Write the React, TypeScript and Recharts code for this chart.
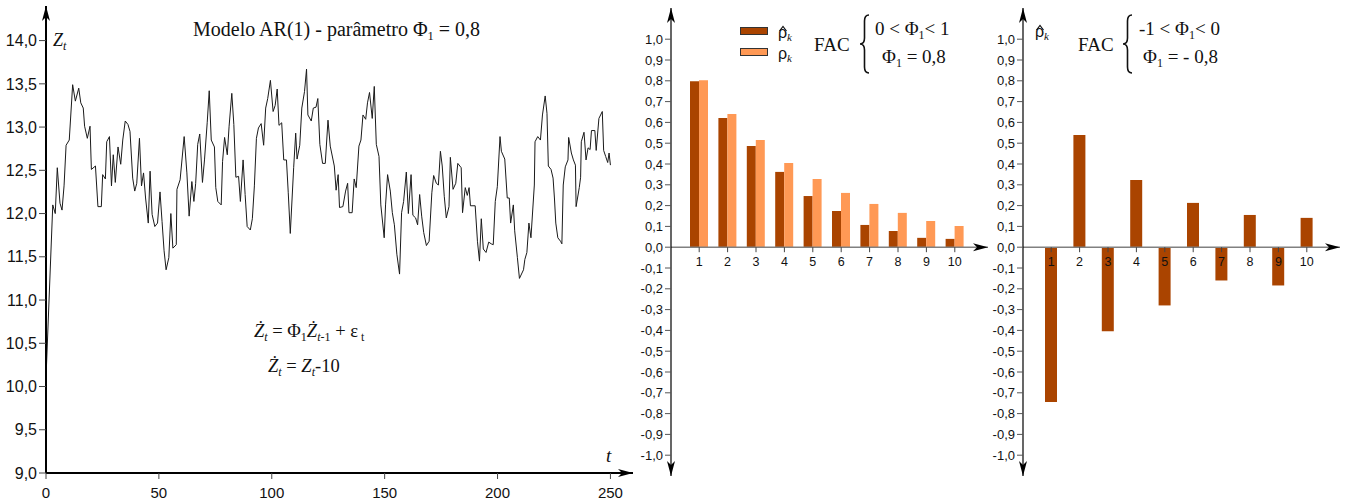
import React from 'react';
import { LineChart, Line, BarChart, Bar, XAxis, YAxis, ReferenceLine } from 'recharts';

const SANS = '"Liberation Sans", Arial, sans-serif';
const SERIF = '"Liberation Serif", "Times New Roman", serif';
const DARK = '#aa4400';
const LIGHT = '#ff9955';

// AR(1) series (t, Z_t)
const tValues = [
  0, 3.0, 4.1, 5.0, 6.2, 7.1, 8.0, 8.9, 10.3, 11.8,
  13.0, 14.5, 15.4, 16.5, 17.1, 18.3, 19.5, 20.1, 21.9, 23.0,
  24.5, 25.1, 26.3, 26.9, 28.1, 29.0, 29.8, 30.7, 31.9, 33.1,
  34.0, 35.1, 36.3, 37.2, 38.4, 39.3, 40.2, 41.4, 42.3, 43.2,
  44.1, 45.3, 46.1, 47.0, 48.2, 49.4, 50.5, 51.4, 52.3, 53.2,
  54.4, 55.3, 56.2, 57.7, 58.0, 59.4, 61.2, 62.4, 63.4, 64.6,
  65.5, 66.3, 67.2, 68.1, 69.3, 70.2, 71.4, 72.3, 73.2, 74.6,
  75.2, 76.1, 77.6, 78.2, 79.1, 80.3, 81.1, 82.3, 83.2, 84.1,
  85.3, 86.1, 87.3, 88.2, 89.1, 90.5, 91.4, 92.3, 93.2, 94.1,
  95.3, 96.4, 97.3, 98.2, 99.4, 100.6, 101.5, 102.4, 103.2, 104.4,
  105.3, 106.5, 107.3, 108.2, 109.7, 110.6, 111.2, 112.4, 113.3, 114.5,
  115.4, 116.0, 117.5, 118.4, 119.6, 120.4, 121.3, 122.5, 123.7, 124.9,
  125.9, 127.7, 128.5, 129.4, 130.0, 131.5, 132.7, 133.6, 134.2, 135.6,
  136.5, 137.4, 138.6, 139.5, 140.4, 141.6, 142.4, 143.3, 144.5, 145.4,
  146.3, 147.5, 148.3, 149.8, 150.4, 151.3, 152.5, 153.4, 154.3, 155.4,
  156.6, 157.5, 158.4, 159.6, 160.5, 161.7, 162.5, 163.7, 164.6, 165.5,
  166.4, 167.3, 168.5, 169.7, 170.9, 171.7, 172.9, 173.8, 174.7, 175.5,
  176.4, 177.3, 178.5, 179.1, 180.3, 181.5, 182.4, 183.9, 184.5, 185.7,
  186.6, 187.4, 188.0, 190.1, 191.1, 192.0, 192.8, 193.7, 194.9, 196.1,
  197.2, 198.1, 199.0, 199.9, 201.1, 201.7, 203.2, 204.3, 205.2, 205.8,
  207.0, 207.6, 208.8, 209.7, 211.5, 212.1, 213.0, 213.9, 214.8, 216.3,
  216.6, 217.8, 219.0, 219.9, 221.1, 221.9, 222.5, 223.7, 224.6, 225.2,
  225.8, 226.7, 227.9, 228.5, 229.1, 230.0, 231.2, 231.5, 232.7, 233.6,
  234.5, 234.8, 236.2, 236.8, 237.1, 238.3, 239.2, 240.1, 241.0, 241.6,
  243.1, 243.7, 244.9, 246.4, 247.0, 247.9, 248.8, 249.4, 250.0,
];

const zValues = [
  10.10, 12.10, 12.00, 12.53, 12.12, 12.04, 12.32, 12.79, 12.85, 13.49,
  13.30, 13.45, 13.28, 13.22, 13.01, 12.87, 13.01, 12.51, 12.55, 12.08,
  12.08, 12.45, 12.40, 12.83, 12.89, 12.32, 12.68, 12.36, 12.77, 12.57,
  12.85, 13.07, 13.03, 12.95, 12.41, 12.26, 12.35, 12.87, 12.32, 12.47,
  12.18, 11.89, 12.49, 11.99, 11.85, 11.89, 12.25, 11.91, 11.57, 11.35,
  11.49, 12.00, 11.60, 11.64, 12.28, 12.39, 12.89, 12.47, 11.97, 12.37,
  12.14, 12.35, 12.80, 12.92, 12.36, 12.62, 13.05, 13.42, 12.85, 12.77,
  12.30, 12.14, 12.10, 12.60, 12.88, 12.68, 13.01, 13.39, 13.03, 12.42,
  12.43, 12.14, 12.62, 12.22, 11.85, 11.81, 11.94, 12.32, 12.87, 12.99,
  13.04, 12.79, 13.22, 13.33, 13.54, 13.18, 13.25, 13.44, 13.02, 13.05,
  12.62, 12.62, 12.24, 11.77, 12.53, 12.93, 12.63, 12.79, 13.22, 13.41,
  13.67, 13.14, 13.07, 13.22, 13.23, 13.33, 12.80, 12.58, 12.58, 13.08,
  12.78, 12.55, 12.27, 12.45, 12.07, 12.08, 12.26, 12.35, 12.01, 12.01,
  12.40, 12.30, 12.78, 12.85, 13.14, 13.09, 13.28, 13.40, 13.10, 13.47,
  12.80, 12.66, 12.10, 11.72, 12.10, 12.45, 12.26, 12.01, 11.87, 11.53,
  11.30, 12.01, 12.14, 12.48, 12.00, 12.45, 11.98, 11.95, 11.87, 12.22,
  11.97, 11.78, 11.63, 11.68, 12.24, 12.44, 12.35, 12.33, 12.72, 12.55,
  12.20, 11.95, 12.08, 12.65, 12.28, 12.35, 12.58, 12.53, 12.01, 12.30,
  12.21, 12.30, 12.09, 12.09, 11.68, 11.45, 11.94, 11.59, 11.55, 11.67,
  11.65, 11.64, 12.14, 12.31, 12.89, 12.72, 12.63, 12.18, 12.18, 11.89,
  12.10, 11.80, 11.49, 11.25, 11.35, 11.47, 11.55, 11.89, 11.72, 12.33,
  12.83, 12.89, 12.85, 13.14, 13.36, 13.16, 12.55, 12.51, 12.41, 12.18,
  11.89, 11.72, 11.68, 11.65, 12.33, 12.54, 12.62, 12.88, 12.70, 12.62,
  12.56, 12.08, 12.30, 12.42, 12.83, 12.94, 12.62, 12.76, 12.74, 12.96,
  12.96, 12.73, 13.10, 13.18, 12.73, 12.66, 12.59, 12.70, 12.56,
];

const zTicks = [9, 9.5, 10, 10.5, 11, 11.5, 12, 12.5, 13, 13.5, 14];
const tTicks = [0, 50, 100, 150, 200, 250];

// FAC (ACF) bars
const lags = [1, 2, 3, 4, 5, 6, 7, 8, 9, 10];
const rhoHatPos = [0.798, 0.621, 0.486, 0.362, 0.246, 0.174, 0.107, 0.078, 0.045, 0.040];
const rhoTheo = [0.803, 0.640, 0.515, 0.405, 0.328, 0.261, 0.208, 0.165, 0.126, 0.102];
const rhoHatNeg = [-0.744, 0.539, -0.404, 0.323, -0.280, 0.213, -0.160, 0.155, -0.184, 0.141];
const acfTicks = [-1, -0.9, -0.8, -0.7, -0.6, -0.5, -0.4, -0.3, -0.2, -0.1, 0, 0.1, 0.2, 0.3, 0.4, 0.5, 0.6, 0.7, 0.8, 0.9, 1];

const seriesData = tValues.map((t, i) => ({ t, z: zValues[i] }));
const acfPosData = lags.map((k, i) => ({ k, hat: rhoHatPos[i], theo: rhoTheo[i] }));
const acfNegData = lags.map((k, i) => ({ k, hat: rhoHatNeg[i] }));

const fmt = (v: number) => v.toFixed(1).replace('.', ',');

// layout
const H = 504;
const TS = { width: 640, top: 6, right: 7, axisW: 46, axisH: 31 };
const tsLeft = TS.axisW;
const tsRight = TS.width - TS.right;
const tsBottom = H - TS.axisH;

const ACF_TOP = 8;
const ACF_BOTTOM = 28;
const ACF_DOMAIN: [number, number] = [-1.1, 1.15];
const acfBottom = H - ACF_BOTTOM;
const zeroY = ACF_TOP + (ACF_DOMAIN[1] / (ACF_DOMAIN[1] - ACF_DOMAIN[0])) * (acfBottom - ACF_TOP);
const MID = { left: 630, width: 360, axisW: 41, right: 2 };
const RGT = { left: 982, width: 366, axisW: 41, right: 8 };

const LagTick = (props: any) => {
  const { x, payload } = props;
  return (
    <g>
      <line x1={x} x2={x} y1={zeroY} y2={zeroY + 5} stroke="#444" />
      <text x={x} y={zeroY + 19} textAnchor="middle" fontSize={12.5} fontFamily={SANS} fill="#111">
        {payload.value}
      </text>
    </g>
  );
};

function arrow(x: number, y: number, dir: 'up' | 'down' | 'right') {
  if (dir === 'up') return `M ${x} ${y} L ${x + 4} ${y + 15} L ${x} ${y + 11} L ${x - 4} ${y + 15} Z`;
  if (dir === 'down') return `M ${x} ${y} L ${x + 4} ${y - 15} L ${x} ${y - 11} L ${x - 4} ${y - 15} Z`;
  return `M ${x} ${y} L ${x - 15} ${y - 4} L ${x - 11} ${y} L ${x - 15} ${y + 4} Z`;
}

function brace(x: number, y0: number, y1: number) {
  const w = 9;
  const q = 6;
  const xm = x + w / 2;
  const ym = (y0 + y1) / 2;
  return `M ${x + w} ${y0} Q ${xm} ${y0} ${xm} ${y0 + q} L ${xm} ${ym - q} Q ${xm} ${ym} ${x} ${ym} Q ${xm} ${ym} ${xm} ${ym + q} L ${xm} ${y1 - q} Q ${xm} ${y1} ${x + w} ${y1}`;
}

// rho with a hat drawn above it, subscript k
function RhoLabel({ x, y, hat }: { x: number; y: number; hat: boolean }) {
  return (
    <g>
      <text x={x} y={y} fontSize={16} fontFamily={SANS} fill="#111">
        ρ<tspan fontFamily={SERIF} fontStyle="italic" fontSize={11} dy={3}>k</tspan>
      </text>
      {hat && (
        <path
          d={`M ${x + 1.5} ${y - 7} L ${x + 5} ${y - 11.5} L ${x + 8.5} ${y - 7}`}
          fill="none"
          stroke="#111"
          strokeWidth={1.2}
        />
      )}
    </g>
  );
}

function AcfChart({ data, two, layout }: { data: any[]; two: boolean; layout: typeof MID }) {
  return (
    <BarChart
      width={layout.width}
      height={H}
      data={data}
      barGap={0}
      margin={{ top: ACF_TOP, right: layout.right, left: 0, bottom: ACF_BOTTOM - 1 }}
    >
      <XAxis
        dataKey="k"
        height={1}
        axisLine={false}
        tickLine={false}
        interval={0}
        padding={{ left: 14, right: 19 }}
        tick={LagTick}
      />
      <YAxis
        type="number"
        domain={ACF_DOMAIN}
        ticks={acfTicks}
        interval={0}
        allowDataOverflow
        width={layout.axisW}
        tickFormatter={fmt}
        tickSize={6}
        tickMargin={2}
        axisLine={{ stroke: '#000', strokeWidth: 1.2 }}
        tickLine={{ stroke: '#555' }}
        tick={{ fontSize: 13, fill: '#111', fontFamily: SANS }}
      />
      <ReferenceLine y={0} stroke="#808080" strokeWidth={1.5} />
      <Bar dataKey="hat" fill={DARK} barSize={two ? 9 : 12} isAnimationActive={false} />
      {two && <Bar dataKey="theo" fill={LIGHT} barSize={9} isAnimationActive={false} />}
    </BarChart>
  );
}

export default function App() {
  const midAxisX = MID.left + MID.axisW;
  const midRight = MID.left + MID.width - MID.right;
  const rgtAxisX = RGT.left + RGT.axisW;
  const rgtRight = RGT.left + RGT.width - RGT.right;

  return (
    <div style={{ position: 'absolute', left: 0, top: 0, width: 1348, height: H, background: '#fff' }}>
      <div style={{ position: 'absolute', left: 0, top: 0 }}>
        <LineChart
          width={TS.width}
          height={H}
          data={seriesData}
          margin={{ top: TS.top, right: TS.right, left: 0, bottom: 0 }}
        >
          <XAxis
            dataKey="t"
            type="number"
            domain={[0, 260]}
            ticks={tTicks}
            allowDataOverflow
            height={TS.axisH}
            tickSize={6}
            tickMargin={8}
            axisLine={{ stroke: '#000', strokeWidth: 2 }}
            tickLine={{ stroke: '#444' }}
            tick={{ fontSize: 15, fill: '#111', fontFamily: SANS }}
          />
          <YAxis
            type="number"
            domain={[9, 14.4]}
            ticks={zTicks}
            interval={0}
            allowDataOverflow
            width={TS.axisW}
            tickFormatter={fmt}
            tickSize={7}
            tickMargin={2}
            axisLine={{ stroke: '#000', strokeWidth: 2 }}
            tickLine={{ stroke: '#444' }}
            tick={{ fontSize: 16, fill: '#111', fontFamily: SANS }}
          />
          <Line
            type="linear"
            dataKey="z"
            stroke="#1a1a1a"
            strokeWidth={1}
            dot={false}
            isAnimationActive={false}
          />
        </LineChart>
      </div>

      <div style={{ position: 'absolute', left: MID.left, top: 0 }}>
        <AcfChart data={acfPosData} two layout={MID} />
      </div>
      <div style={{ position: 'absolute', left: RGT.left, top: 0 }}>
        <AcfChart data={acfNegData} two={false} layout={RGT} />
      </div>

      {/* annotations: arrows, titles, legend, braces */}
      <svg width={1348} height={H} style={{ position: 'absolute', left: 0, top: 0, pointerEvents: 'none' }}>
        <g fill="#000">
          <path d={arrow(tsLeft, TS.top, 'up')} />
          <path d={arrow(tsRight, tsBottom, 'right')} />
          <path d={arrow(midAxisX, ACF_TOP, 'up')} />
          <path d={arrow(midAxisX, acfBottom, 'down')} />
          <path d={arrow(midRight, zeroY, 'right')} />
          <path d={arrow(rgtAxisX, ACF_TOP, 'up')} />
          <path d={arrow(rgtAxisX, acfBottom, 'down')} />
          <path d={arrow(rgtRight, zeroY, 'right')} />
        </g>

        <g fontFamily={SERIF} fill="#111">
          <text x={193} y={36} fontSize={20}>
            Modelo AR(1) - parâmetro Φ<tspan fontSize={12.5} dy={4}>1</tspan>
            <tspan dy={-4}> = 0,8</tspan>
          </text>
          <text x={53} y={46} fontSize={18} fontStyle="italic">
            Z<tspan fontSize={12} dy={4}>t</tspan>
          </text>
          <text x={606} y={462} fontSize={19} fontStyle="italic">t</text>

          <text x={254} y={337} fontSize={18.5}>
            <tspan fontStyle="italic">Ż</tspan>
            <tspan fontStyle="italic" fontSize={12} dy={4}>t</tspan>
            <tspan dy={-4}> = Φ</tspan>
            <tspan fontSize={12} dy={4}>1</tspan>
            <tspan dy={-4} fontStyle="italic">Ż</tspan>
            <tspan fontSize={12} dy={4} fontStyle="italic">t</tspan>
            <tspan fontSize={12}>-1</tspan>
            <tspan dy={-4}> + ε</tspan>
            <tspan fontSize={12} dy={4}> t</tspan>
          </text>
          <text x={268} y={372} fontSize={18.5}>
            <tspan fontStyle="italic">Ż</tspan>
            <tspan fontStyle="italic" fontSize={12} dy={4}>t</tspan>
            <tspan dy={-4}> = </tspan>
            <tspan fontStyle="italic">Z</tspan>
            <tspan fontStyle="italic" fontSize={12} dy={4}>t</tspan>
            <tspan dy={-4}>-10</tspan>
          </text>
        </g>

        {/* legend of the middle panel */}
        <rect x={740.5} y={27.5} width={27} height={7} fill={DARK} stroke="#333" />
        <rect x={740.5} y={48.5} width={27} height={7} fill={LIGHT} stroke="#333" />
        <RhoLabel x={778} y={38} hat />
        <RhoLabel x={778} y={59} hat={false} />

        <g fontFamily={SERIF} fill="#111" fontSize={19}>
          <text x={814} y={51}>FAC</text>
          <text x={875} y={35}>
            {'0 < Φ'}<tspan fontSize={12} dy={4}>1</tspan>
            <tspan dy={-4}>{'< 1'}</tspan>
          </text>
          <text x={882} y={63}>
            Φ<tspan fontSize={12} dy={4}>1</tspan>
            <tspan dy={-4}> = 0,8</tspan>
          </text>

          <text x={1078} y={51}>FAC</text>
          <text x={1139} y={35}>
            {'-1 < Φ'}<tspan fontSize={12} dy={4}>1</tspan>
            <tspan dy={-4}>{'< 0'}</tspan>
          </text>
          <text x={1143} y={63}>
            Φ<tspan fontSize={12} dy={4}>1</tspan>
            <tspan dy={-4}> = - 0,8</tspan>
          </text>
        </g>
        <path d={brace(860, 15, 73)} fill="none" stroke="#111" strokeWidth={1.6} />
        <path d={brace(1123, 15, 73)} fill="none" stroke="#111" strokeWidth={1.6} />

        <RhoLabel x={1035} y={37} hat />
      </svg>
    </div>
  );
}
